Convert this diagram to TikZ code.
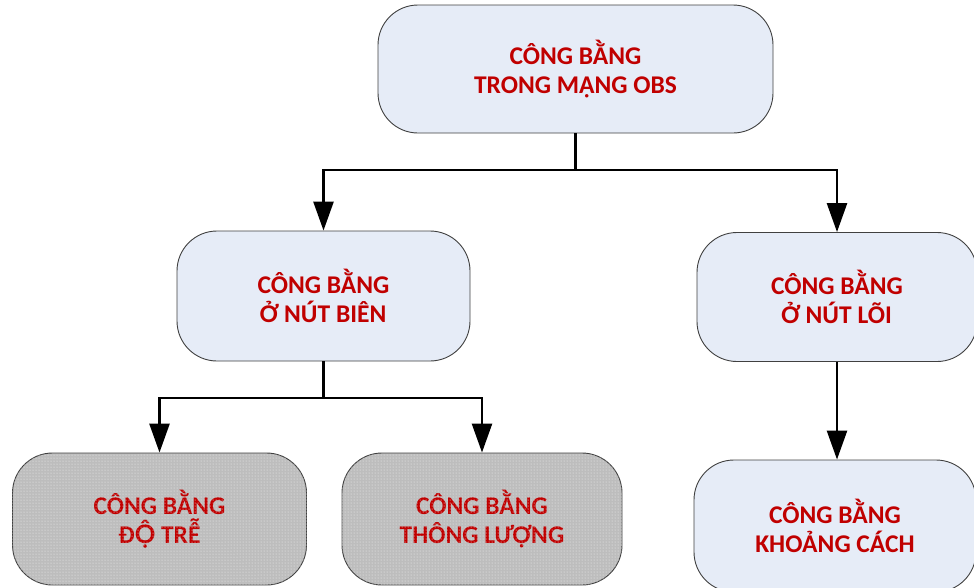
\documentclass[tikz,border=0pt]{standalone}
\usepackage{fontspec}
\setmainfont{Carlito}
\newfontfamily\latofont{Lato}
\usetikzlibrary{arrows.meta,patterns}
\definecolor{boxblue}{HTML}{E6ECF7}
\definecolor{boxgray}{HTML}{BDBDBD}
\definecolor{labelred}{HTML}{C00000}
\definecolor{edgegray}{HTML}{404040}
\tikzset{
  box/.style={draw=edgegray, line width=0.9pt, rounded corners=40pt, fill=boxblue,
    align=center, font=\fontsize{25.5}{29.5}\selectfont\bfseries, text=labelred,
    inner sep=0pt},
  graybox/.style={box, fill=boxgray},
  link/.style={line width=2.6pt, -{Triangle[width=20pt,length=29pt]}},
  trunk/.style={line width=2.6pt}
}
\begin{document}
\begin{tikzpicture}[x=1pt,y=-1pt]
\useasboundingbox (0,0) rectangle (974,587);
\node[box, minimum width=395pt, minimum height=128pt] (root) at (575.5,69) {CÔNG BẰNG\\TRONG MẠNG OBS};
\node[box, minimum width=293pt, minimum height=130pt] (edge) at (323.5,296) {CÔNG BẰNG\\Ở NÚT BIÊN};
\node[box, minimum width=280pt, minimum height=129pt] (core) at (837,297) {CÔNG BẰNG\\Ở NÚT LÕI};
\node[graybox, minimum width=294pt, minimum height=132pt] (delay) at (159.5,519) {CÔNG BẰNG\\Đ{\latofont Ộ} TRỄ};
\node[graybox, minimum width=280pt, minimum height=132pt] (thru) at (482,519) {CÔNG BẰNG\\THÔNG LƯỢNG};
\node[box, minimum width=282pt, minimum height=132pt] (dist) at (835,526) {CÔNG BẰNG\\KHOẢNG CÁCH};
% fine dotted texture on the gray boxes
\foreach \n in {delay,thru}{
  \path[pattern=dots, pattern color=white!80!boxgray, rounded corners=40pt]
    (\n.north west) rectangle (\n.south east);
}
% branch points
\coordinate (j1) at (root.south |- 0,170);
\coordinate (j2) at (edge.south |- 0,398);
\draw[trunk] (root.south) -- (j1);
\draw[link] (j1) -| (edge.north);
\draw[link] (j1) -| (core.north);
\draw[trunk] (edge.south) -- (j2);
\draw[link] (j2) -| (delay.north);
\draw[link] (j2) -| (thru.north);
\draw[link] (core.south) -- (core.south |- dist.north);
\end{tikzpicture}
\end{document}
